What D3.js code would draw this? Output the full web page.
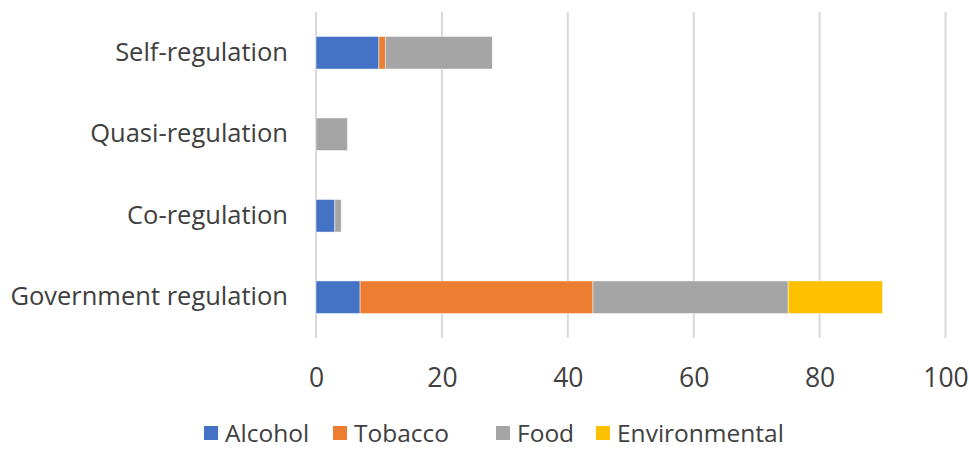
<!DOCTYPE html>
<html>
<head>
<meta charset="utf-8">
<script src="https://cdn.jsdelivr.net/npm/d3@7"></script>
<style>
  body { margin: 0; background: #fff; }
  text { font-family: "Open Sans", sans-serif; fill: #404040; }
</style>
</head>
<body>
<div id="chart"></div>
<script>
// data
var categories = ["Self-regulation", "Quasi-regulation", "Co-regulation", "Government regulation"];
var seriesNames = ["Alcohol", "Tobacco", "Food", "Environmental"];
var alcohol = [10, 0, 3, 7];
var tobacco = [1, 0, 0, 37];
var food = [17, 5, 1, 31];
var environmental = [0, 0, 0, 15];
var xTicks = [0, 20, 40, 60, 80, 100];
var colors = ["#4472C4", "#ED7D31", "#A5A5A5", "#FFC000"];

var width = 969, height = 450;
var margin = {top: 12, right: 24, bottom: 112, left: 316};

var rows = categories.map(function(c, i) {
  return {cat: c, Alcohol: alcohol[i], Tobacco: tobacco[i], Food: food[i], Environmental: environmental[i]};
});

var svg = d3.select("#chart").append("svg")
  .attr("width", width).attr("height", height);

var x = d3.scaleLinear().domain([0, 100]).range([margin.left, 945.5]);
var y = d3.scaleBand().domain(categories)
  .range([margin.top, height - margin.bottom]).paddingInner(0.6).paddingOuter(0.3);

// gridlines
svg.append("g").selectAll("line").data(xTicks).join("line")
  .attr("x1", function(d) { return x(d); }).attr("x2", function(d) { return x(d); })
  .attr("y1", margin.top).attr("y2", height - margin.bottom)
  .attr("stroke", "#d9d9d9").attr("stroke-width", 2);

var stack = d3.stack().keys(seriesNames)(rows);

svg.append("g").selectAll("g").data(stack).join("g")
  .attr("fill", function(d, i) { return colors[i]; })
  .selectAll("rect").data(function(d) { return d; }).join("rect")
  .attr("x", function(d) { return x(d[0]); })
  .attr("width", function(d) { return x(d[1]) - x(d[0]); })
  .attr("y", function(d) { return y(d.data.cat); })
  .attr("height", y.bandwidth())
  .attr("stroke", "#fff").attr("stroke-width", 0.5)
  .attr("stroke-opacity", function(d) { return d[1] > d[0] ? 1 : 0; });

// x axis labels
var xAxis = d3.axisBottom(x).tickValues(xTicks).tickSize(0).tickPadding(0);
svg.append("g").attr("transform", "translate(0," + 368 + ")").call(xAxis)
  .call(function(g) { g.select(".domain").remove(); })
  .selectAll("text").attr("font-size", 26.5).attr("font-family", "Open Sans").attr("fill", "#404040");

// y axis labels
var yAxis = d3.axisLeft(y).tickSize(0).tickPadding(28);
svg.append("g").attr("transform", "translate(" + margin.left + ",0)").call(yAxis)
  .call(function(g) { g.select(".domain").remove(); })
  .selectAll("text").attr("font-size", 25.5).attr("font-family", "Open Sans").attr("fill", "#404040");

// legend
var legendX = [204, 333, 496, 596];
var legend = svg.append("g").selectAll("g").data(seriesNames).join("g")
  .attr("transform", function(d, i) { return "translate(" + legendX[i] + ",426)"; });
legend.append("rect").attr("width", 14).attr("height", 14)
  .attr("fill", function(d, i) { return colors[i]; });
legend.append("text").attr("x", 21).attr("y", 7).attr("dy", "0.35em")
  .attr("font-size", 24.5).text(function(d) { return d; });
</script>
</body>
</html>
